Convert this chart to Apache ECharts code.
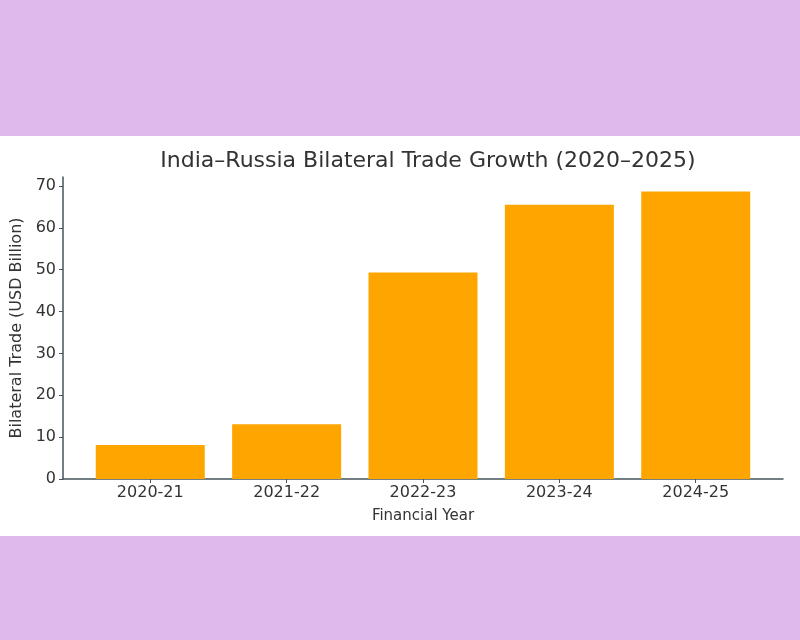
<!DOCTYPE html>
<html>
<head>
<meta charset="utf-8">
<script src="https://cdn.jsdelivr.net/npm/echarts@6/dist/echarts.min.js"></script>
<style>
  html, body { margin: 0; padding: 0; }
  #chart {
    width: 800px;
    height: 640px;
    background: linear-gradient(to bottom, #e0b9ec 0, #e0b9ec 136px, #ffffff 136px, #ffffff 536px, #e0b9ec 536px);
  }
</style>
</head>
<body>
<div id="chart"></div>
<script>
const years = ['2020-21', '2021-22', '2022-23', '2023-24', '2024-25'];
const trade = [8.1, 13.1, 49.3, 65.5, 68.7];
const yTicks = [0, 10, 20, 30, 40, 50, 60, 70];

const chart = echarts.init(document.getElementById('chart'), null, { renderer: 'canvas' });

const textColor = '#333';
const axisColor = '#46555b';
const font = 'DejaVu Sans';

// matplotlib-like limits: bars are 0.8 wide, 5% margins
const xPositions = years.map((_, i) => i);
const yMax = Math.max(...trade) * 1.05;

const option = {
  backgroundColor: 'transparent',
  animation: false,
  title: {
    text: 'India–Russia Bilateral Trade Growth (2020–2025)',
    left: 423,
    top: 145,
    textAlign: 'center',
    textStyle: { fontFamily: font, fontSize: 22, fontWeight: 'normal', color: textColor }
  },
  grid: { left: 63, right: 17, top: 177, bottom: 161 },
  xAxis: {
    type: 'value',
    min: -0.64,
    max: 4.64,
    name: 'Financial Year',
    nameLocation: 'middle',
    nameGap: 30,
    nameTextStyle: { fontFamily: font, fontSize: 15, color: textColor },
    axisLine: { show: true, onZero: false, lineStyle: { color: axisColor, width: 1.5 } },
    axisTick: { show: true, length: 4, customValues: xPositions, lineStyle: { color: axisColor } },
    axisLabel: {
      customValues: xPositions,
      formatter: v => years[Math.round(v)] || '',
      fontFamily: font, fontSize: 16, color: textColor, margin: 6
    },
    splitLine: { show: false }
  },
  yAxis: {
    type: 'value',
    min: 0,
    max: yMax,
    name: 'Bilateral Trade (USD Billion)',
    nameLocation: 'middle',
    nameGap: 37,
    nameTextStyle: { fontFamily: font, fontSize: 16, color: textColor },
    axisLine: { show: true, onZero: false, lineStyle: { color: axisColor, width: 1.5 } },
    axisTick: { show: true, length: 4, customValues: yTicks, lineStyle: { color: axisColor } },
    axisLabel: {
      customValues: yTicks,
      fontFamily: font, fontSize: 16, color: textColor, margin: 7
    },
    splitLine: { show: false }
  },
  series: [
    {
      type: 'bar',
      data: trade.map((v, i) => [xPositions[i], v]),
      barWidth: 109,
      itemStyle: { color: '#ffa500' }
    }
  ]
};

chart.setOption(option);
</script>
</body>
</html>
